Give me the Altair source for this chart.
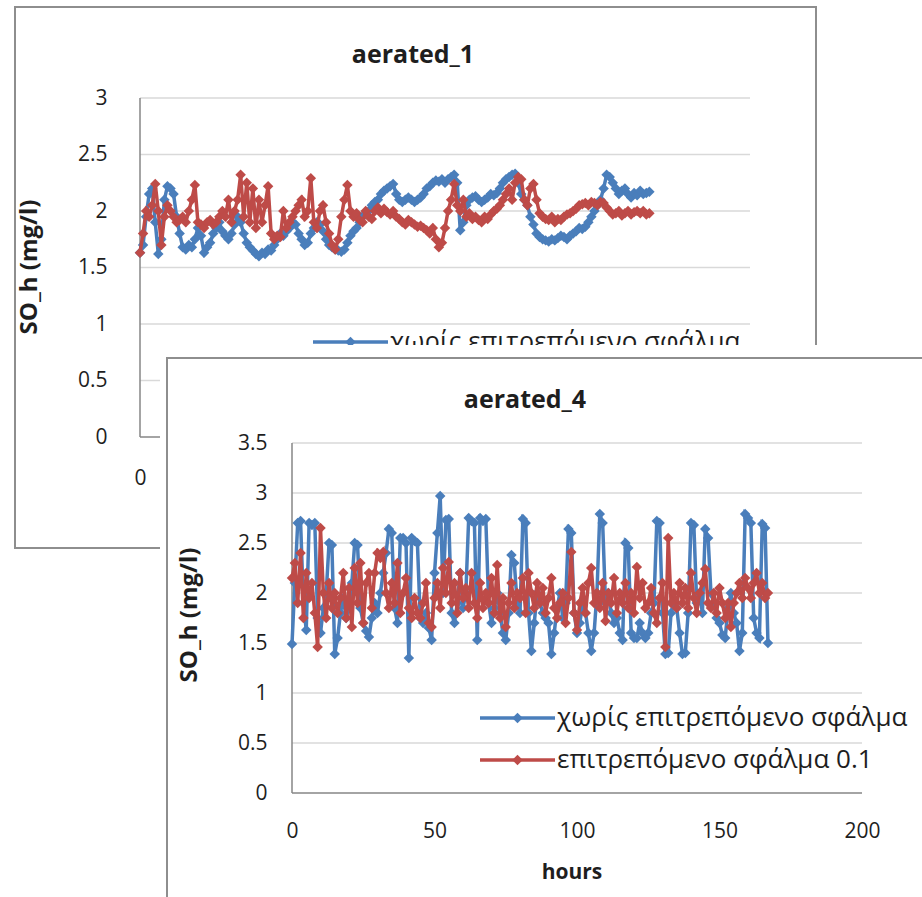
import altair as alt
import pandas as pd

# ---------------------------------------------------------------- data
HOURS = list(range(168))

# aerated_1 : SO_h (mg/l) per hour
A1_NO_TOL = [
    1.63, 1.70, 1.95, 2.15, 2.20, 1.90, 1.62, 1.75, 2.10, 2.22,
    2.20, 2.15, 1.95, 1.80, 1.68, 1.66, 1.70, 1.68, 1.75, 1.85,
    1.78, 1.63, 1.68, 1.72, 1.80, 1.85, 1.90, 1.82, 1.78, 1.75,
    1.80, 1.88, 1.95, 1.90, 1.80, 1.72, 1.68, 1.65, 1.62, 1.60,
    1.63, 1.62, 1.66, 1.65, 1.70, 1.75, 1.80, 1.78, 1.82, 1.85,
    1.90, 1.88, 1.80, 1.75, 1.70, 1.72, 1.80, 1.85, 1.90, 1.88,
    1.82, 1.75, 1.70, 1.68, 1.66, 1.65, 1.64, 1.66, 1.72, 1.78,
    1.82, 1.85, 1.90, 1.95, 1.98, 2.00, 2.05, 2.08, 2.10, 2.15,
    2.18, 2.20, 2.22, 2.24, 2.15, 2.10, 2.08, 2.10, 2.12, 2.10,
    2.08, 2.10, 2.12, 2.15, 2.20, 2.22, 2.25, 2.27, 2.26, 2.28,
    2.25, 2.28, 2.30, 2.32, 2.25, 1.83, 1.90, 2.05, 2.10, 2.12,
    2.13, 2.10, 2.08, 2.10, 2.12, 2.15, 2.14, 2.16, 2.20, 2.25,
    2.28, 2.30, 2.32, 2.33, 2.25, 2.15, 2.10, 2.05, 1.95, 1.88,
    1.80, 1.77, 1.75, 1.74, 1.73, 1.75, 1.74, 1.76, 1.78, 1.77,
    1.75, 1.78, 1.80, 1.82, 1.85, 1.84, 1.86, 1.90, 1.95, 2.00,
    2.05, 2.10, 2.20, 2.32, 2.30, 2.25, 2.20, 2.15, 2.18, 2.20,
    2.15, 2.12, 2.16, 2.14, 2.18, 2.15, 2.16, 2.17,
]
A1_TOL = [
    1.63, 1.80, 2.00, 1.95, 2.05, 2.24, 2.00, 1.70, 1.95, 2.05,
    2.00, 1.95, 1.90, 1.92, 1.95, 1.90, 2.00, 2.10, 2.23, 1.90,
    1.88, 1.85, 1.90, 1.92, 1.88, 1.90, 1.95, 2.00, 1.95, 2.10,
    1.90, 2.00, 2.10, 2.32, 1.95, 2.25, 1.90, 2.20, 1.85, 2.10,
    1.90, 2.05, 2.22, 1.80, 1.75, 1.78, 1.77, 2.00, 1.85, 1.90,
    1.95, 2.00, 2.05, 2.10, 1.95, 2.00, 2.29, 1.90, 1.85, 2.00,
    2.05, 1.90, 1.80, 1.70, 1.66, 1.75, 1.95, 2.10, 2.23, 2.00,
    1.95, 1.98, 1.92, 1.90, 2.00, 1.95, 1.93, 2.00, 2.03, 1.98,
    2.02, 1.99, 1.97, 2.00, 1.95, 1.93, 1.90, 1.88, 1.92, 1.90,
    1.88, 1.86, 1.87, 1.85, 1.83, 1.80, 1.85, 1.75, 1.68, 1.72,
    1.85, 2.00, 2.10, 2.24, 2.05, 2.00, 2.10, 1.95, 1.98, 1.93,
    1.95, 1.92, 1.90, 1.95, 1.93, 1.97, 2.00, 2.02, 2.05, 2.10,
    2.15, 2.20, 2.10, 2.25, 2.30, 2.28, 2.10, 2.05, 2.20, 2.24,
    2.10, 1.98, 1.95, 1.93, 1.92, 1.95, 1.90, 1.93, 1.92, 1.95,
    1.97, 1.98, 2.00, 2.02, 2.05, 2.06, 2.07, 2.05, 2.08, 2.07,
    2.05, 2.08, 2.07, 2.03, 2.00, 1.97, 1.98, 2.00, 1.96, 1.98,
    2.00, 1.97, 1.99, 2.00, 1.98, 2.00, 1.97, 1.98,
]

# aerated_4 : SO_h (mg/l) per hour
A4_NO_TOL = [
    1.49, 2.10, 2.70, 2.72, 1.90, 1.63, 2.70, 2.68, 2.70, 1.75,
    1.60, 1.85, 2.00, 2.50, 2.48, 1.39, 1.55, 1.80, 1.95, 1.75,
    1.85, 2.10, 2.50, 2.48, 1.85, 1.70, 1.62, 1.56, 1.75, 1.90,
    1.80, 2.00, 2.20, 2.40, 2.64, 2.60, 1.85, 1.70, 2.55, 2.55,
    2.50, 1.35, 2.55, 2.52, 2.50, 1.75, 1.70, 1.80, 1.65, 1.53,
    2.20, 2.60, 2.97, 2.00, 2.73, 2.74, 1.80, 1.70, 1.90, 2.20,
    1.85, 2.00, 2.75, 2.72, 2.70, 1.53, 2.75, 2.72, 2.74, 1.90,
    1.70, 1.85, 2.00, 1.80, 1.60, 1.53, 1.80, 2.38, 2.30, 1.90,
    1.80, 2.74, 2.70, 1.80, 1.42, 1.70, 2.00, 1.90, 1.80, 1.75,
    1.70, 1.39, 1.60, 1.85, 2.00, 1.75, 1.90, 2.64, 2.60, 1.80,
    1.60, 1.70, 1.90, 1.80, 1.60, 1.42, 1.60, 2.00, 2.79, 2.70,
    1.90, 2.00, 1.80, 1.70, 1.75, 1.60, 1.53, 2.50, 2.45, 1.60,
    1.55, 1.55, 1.70, 1.60, 1.55, 1.60, 1.80, 1.90, 2.72, 2.70,
    1.80, 1.39, 1.40, 1.80, 1.90, 1.85, 1.60, 1.39, 1.40, 1.80,
    2.70, 2.68, 1.90, 2.00, 1.80, 2.64, 2.55, 2.00, 1.90, 1.75,
    1.70, 1.58, 1.55, 1.85, 2.00, 1.80, 1.70, 1.42, 1.60, 2.79,
    2.75, 2.70, 1.75, 1.60, 1.55, 2.69, 2.65, 1.50,
]
A4_TOL = [
    2.15, 2.30, 1.90, 2.40, 1.75, 2.20, 1.95, 2.10, 1.80, 1.46,
    2.65, 2.00, 1.75, 2.10, 1.85, 2.00, 1.80, 1.95, 2.20, 1.75,
    2.05, 1.66, 2.25, 1.90, 2.30, 1.70, 2.10, 2.20, 1.85, 2.20,
    2.40, 2.35, 2.41, 2.00, 1.85, 2.10, 1.90, 2.30, 1.80, 2.00,
    2.15, 1.85, 1.75, 1.95, 1.80, 1.75, 1.90, 2.10, 1.70, 1.66,
    1.95, 2.10, 1.85, 2.25, 2.00, 2.31, 1.90, 2.10, 1.80, 2.20,
    1.95, 2.05, 1.85, 2.20, 1.90, 1.75, 2.10, 1.85, 2.00, 1.90,
    2.15, 1.80, 2.28, 1.75, 1.95, 1.66, 1.90, 2.10, 1.85, 2.00,
    1.95, 2.15, 1.80, 2.20, 2.00, 1.85, 2.10, 1.90, 2.05, 1.80,
    1.95, 2.15, 1.85, 1.75, 1.90, 2.00, 1.70, 1.95, 2.41, 1.80,
    1.63, 1.90, 2.05, 1.80, 2.10, 2.25, 1.90, 2.00, 1.85, 2.10,
    1.72, 2.00, 1.90, 2.15, 1.80, 2.00, 1.90, 2.10, 1.85, 2.00,
    1.80, 2.26, 1.95, 2.10, 1.85, 1.90, 2.05, 1.80, 1.70, 1.95,
    2.10, 1.46, 2.55, 1.90, 2.00, 1.85, 2.10, 1.90, 2.05, 1.85,
    2.20, 1.95, 1.80, 2.00, 2.10, 2.24, 1.90, 1.85, 2.00, 1.80,
    2.05, 1.90, 1.75, 1.90, 1.66, 1.90, 2.00, 2.10, 1.95, 2.15,
    2.05, 1.95, 2.10, 2.20, 2.00, 2.10, 1.95, 2.00,
]

SERIES = ["χωρίς επιτρεπόμενο σφάλμα", "επιτρεπόμενο σφάλμα 0.1"]
Y1_TICKS = [0, 0.5, 1, 1.5, 2, 2.5, 3]
Y4_TICKS = [0, 0.5, 1, 1.5, 2, 2.5, 3, 3.5]
X_TICKS = [0, 50, 100, 150, 200]

# ---------------------------------------------------------------- style
W, H = 922, 897
BLUE, RED = "#4A7EBB", "#BE4B48"
GRID_C, AXIS_C, FRAME_C, TEXT_C = "#D9D9D9", "#868686", "#8E8E8E", "#1E1E1E"
FONT = "Open Sans"
LABEL_SIZE = 21
LEGEND_SIZE = 26
LINE_W = 3.5
MARK_SIZE = 110

# each panel: where data (0, 0) sits on the canvas and pixels per data unit
P1 = dict(x0=140, y0=437, kx=3.05, ky=113)
P4 = dict(x0=292, y0=793, kx=2.85, ky=100)

one = pd.DataFrame({"k": [0]})


def panel_scales(p):
    xs = alt.Scale(domain=[-p["x0"] / p["kx"], (W - p["x0"]) / p["kx"]], nice=False, zero=False)
    ys = alt.Scale(domain=[(p["y0"] - H) / p["ky"], p["y0"] / p["ky"]], nice=False, zero=False)
    return xs, ys


def box(x, x2, y, y2, fill="transparent", stroke=FRAME_C, sw=2.0):
    return alt.Chart(one).mark_rect(fill=fill, stroke=stroke, strokeWidth=sw, clip=False).encode(
        x=alt.value(x), x2=alt.value(x2), y=alt.value(y), y2=alt.value(y2)
    )


def label(text, x, y, size, bold=False, angle=0, align="center"):
    return alt.Chart(one).mark_text(
        text=text, font=FONT, fontSize=size, fontWeight="bold" if bold else "normal",
        color=TEXT_C, angle=angle, align=align, baseline="middle",
    ).encode(x=alt.value(x), y=alt.value(y))


def legend_entry(x_a, x_b, y, text, color):
    rule = alt.Chart(one).mark_rule(color=color, strokeWidth=LINE_W).encode(
        x=alt.value(x_a), x2=alt.value(x_b), y=alt.value(y))
    dot = alt.Chart(one).mark_point(shape="diamond", size=MARK_SIZE, filled=True, opacity=1, color=color).encode(
        x=alt.value((x_a + x_b) / 2), y=alt.value(y))
    txt = label(text, x_b + 2, y, LEGEND_SIZE, align="left")
    return [rule, dot, txt]


def grid_and_axes(p, y_ticks, x_ticks, zindex, ypad, xpad):
    xs, ys = panel_scales(p)
    df = pd.DataFrame({"v": y_ticks[1:], "x0": 0, "x1": X_TICKS[-1]})
    common = dict(domain=False, ticks=False, grid=False, title=None, zindex=zindex,
                  labelFont=FONT, labelFontSize=LABEL_SIZE, labelColor=TEXT_C,
                  labelFlush=False, labelOverlap=False, format=".1~f")
    yax = alt.Axis(orient="left", offset=-p["x0"], values=y_ticks, labelPadding=ypad, **common)
    xax = alt.Axis(orient="bottom", offset=p["y0"] - H, values=x_ticks, labelPadding=xpad, **common)
    grid = alt.Chart(df).mark_rule(color=GRID_C, strokeWidth=1.5).encode(
        x=alt.X("x0:Q", scale=xs, axis=xax), x2="x1:Q",
        y=alt.Y("v:Q", scale=ys, axis=yax),
    )
    frame_df = pd.DataFrame({"xa": [0, 0], "xb": [0, X_TICKS[-1]], "ya": [0, 0], "yb": [y_ticks[-1], 0]})
    axis_lines = alt.Chart(frame_df).mark_rule(color=AXIS_C, strokeWidth=1.5).encode(
        x=alt.X("xa:Q", scale=xs, axis=None), x2="xb:Q",
        y=alt.Y("ya:Q", scale=ys, axis=None), y2="yb:Q",
    )
    return [grid, axis_lines]


def series_lines(p, blue_vals, red_vals):
    xs, ys = panel_scales(p)
    out = []
    for vals, name, color in ((blue_vals, SERIES[0], BLUE), (red_vals, SERIES[1], RED)):
        df = pd.DataFrame({"hour": HOURS, "so": vals, "series": name})
        out.append(
            alt.Chart(df).mark_line(
                color=color, strokeWidth=LINE_W,
                point=alt.OverlayMarkDef(shape="diamond", size=MARK_SIZE, filled=True, opacity=1, color=color),
            ).encode(
                x=alt.X("hour:Q", scale=xs, axis=None),
                y=alt.Y("so:Q", scale=ys, axis=None),
            )
        )
    return out


# ---------------------------------------------------------------- aerated_1 (behind)
layers = [box(15, 816, 7, 548)]
layers += grid_and_axes(P1, Y1_TICKS, [0], 0, 33, 30)
layers += series_lines(P1, A1_NO_TOL, A1_TOL)
layers += legend_entry(313, 388, 342, SERIES[0], BLUE)
layers += [
    label("aerated_1", 413, 55, 25, bold=True),
    label("SO_h (mg/l)", 30, 267, 24, bold=True, angle=270),
]

# ---------------------------------------------------------------- aerated_4 (in front)
layers += [
    box(160, W + 40, 345, H + 40, fill="white", stroke="white", sw=0),
    box(167, W + 40, 358, H + 40),
]
layers += grid_and_axes(P4, Y4_TICKS, X_TICKS, 1, 25, 27)
layers += series_lines(P4, A4_NO_TOL, A4_TOL)
layers += legend_entry(480, 555, 718, SERIES[0], BLUE)
layers += legend_entry(480, 555, 760, SERIES[1], RED)
layers += [
    label("aerated_4", 525, 400, 25, bold=True),
    label("SO_h (mg/l)", 190, 615, 24, bold=True, angle=270),
    label("hours", 572, 873, 21, bold=True),
]

chart = (
    alt.layer(*layers)
    .resolve_scale(x="independent", y="independent")
    .properties(width=W, height=H, padding=0, autosize=alt.AutoSizeParams(type="none"), background="white")
    .configure_view(stroke=None)
)

chart.save("out.html", embed_options={"renderer": "svg", "actions": False})
